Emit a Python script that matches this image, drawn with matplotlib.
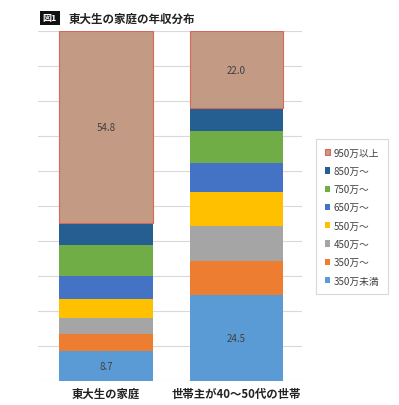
import numpy as np
import matplotlib.pyplot as plt
from matplotlib.patches import Rectangle

plt.rcParams['font.family'] = ['Noto Sans CJK JP', 'DejaVu Sans']

# data (percent), bottom to top
groups = ["東大生の家庭", "世帯主が40～50代の世帯"]
bands = ["350万未満", "350万～", "450万～", "550万～", "650万～", "750万～", "850万～", "950万以上"]
todai = [8.7, 4.8, 4.4, 5.5, 6.7, 8.9, 6.2, 54.8]
general = [24.5, 9.7, 10.2, 9.5, 8.4, 9.1, 6.6, 22.0]
colors = ["#5B9BD5", "#ED7D31", "#A5A5A5", "#FFC000", "#4472C4", "#70AD47", "#255E91", "#C39A84"]
shown = {0: [0, 1], 7: [0, 1]}  # band index -> which bars get a value label

fig = plt.figure(figsize=(3.99, 4.06), dpi=100)
ax = fig.add_axes([38/399, 24/406, 264/399, 350/406])

x = np.arange(len(groups))
vals = np.array([todai, general])
bottom = np.zeros(len(groups))
handles = []
for i, name in enumerate(bands):
    edge = "#D9665A" if i == 7 else "none"
    bars = ax.bar(x, vals[:, i], bottom=bottom, width=0.713, color=colors[i],
                  edgecolor=edge, linewidth=0.8 if i == 7 else 0, label=name, zorder=2)
    for j in shown.get(i, []):
        ax.text(x[j], bottom[j] + vals[j, i] / 2, f"{vals[j, i]:.1f}", ha="center", va="center",
                fontsize=7, color="#404040", zorder=3)
    bottom += vals[:, i]
    handles.append(bars)

ax.set_xlim(-0.521, 1.502)
ax.set_ylim(0, 100)
ax.set_yticks(np.arange(0, 101, 10))
ax.yaxis.grid(True, color="#D9D9D9", linewidth=0.8, zorder=0)
ax.set_axisbelow(True)
ax.tick_params(axis="y", left=False, labelleft=False)
ax.tick_params(axis="x", length=0, pad=4)
ax.set_xticks(x)
ax.set_xticklabels(groups, fontsize=8.2, fontweight="bold", color="#222222")
for s in ax.spines.values():
    s.set_visible(False)

leg = fig.legend(handles[::-1], bands[::-1], loc="upper left", bbox_to_anchor=(311/399, 1 - 135/406),
                 fontsize=7, handlelength=0.6, handleheight=0.6, handletextpad=0.3,
                 labelspacing=0.85, borderpad=0.9, frameon=True, fancybox=False,
                 edgecolor="#D0D0D0", labelcolor="#404040")
leg.get_frame().set_linewidth(0.8)

# title
fig.patches.append(Rectangle((40/399, 1 - 26/406), 20/399, 14/406, transform=fig.transFigure,
                             facecolor="#111111", edgecolor="none"))
fig.text(50/399, 1 - 19/406, "図1", ha="center", va="center", color="white", fontsize=6.5,
         fontweight="bold")
fig.text(69/399, 1 - 19/406, "東大生の家庭の年収分布", ha="left", va="center", fontsize=8.3,
         fontweight="bold", color="#222222")

fig.savefig("out.png", dpi=100)
